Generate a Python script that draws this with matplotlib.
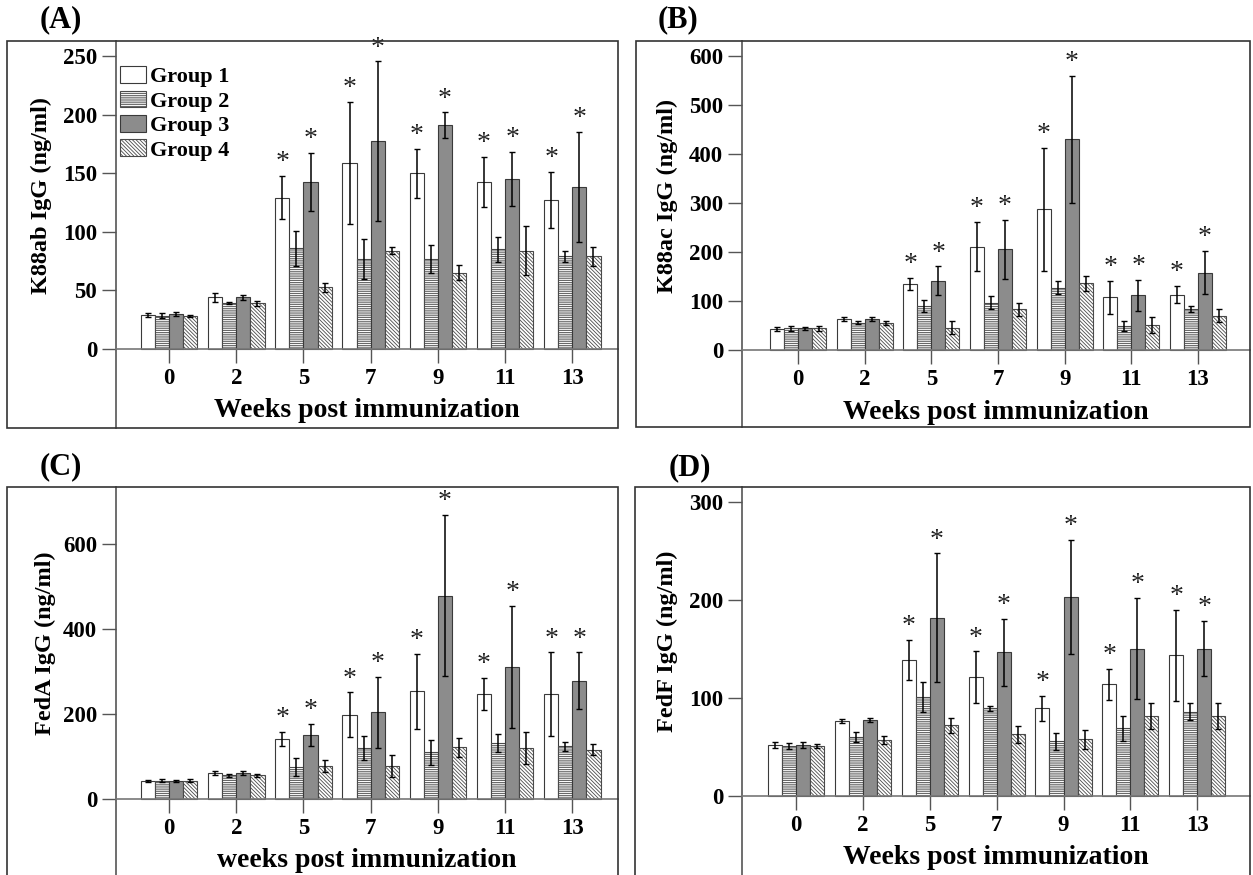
import numpy as np
import matplotlib.pyplot as plt
from matplotlib.patches import Rectangle

weeks = ['0', '2', '5', '7', '9', '11', '13']
groups = ['Group 1', 'Group 2', 'Group 3', 'Group 4']

# mean and SD per group (rows = Group 1..4, columns = weeks)
k88ab_mean = [[29, 44, 129, 159, 150, 142.6, 127],
              [28.5, 39, 86, 77, 76.5, 85, 79],
              [30, 44, 142.6, 177.5, 191, 145, 138],
              [28, 39, 52.5, 84, 65, 84, 79]]
k88ab_sd = [[1.5, 4, 18.5, 52, 21, 21.5, 24],
            [2, 1, 15, 17, 12, 10.5, 4.5],
            [1.5, 2, 25, 68, 11, 23, 47],
            [1, 2, 4, 3, 6.5, 21, 8]]

k88ac_mean = [[43.5, 62.6, 135, 211, 287, 107.5, 113],
              [44, 56, 90, 97, 127, 49, 83],
              [44, 62.6, 141.5, 206, 430, 111.6, 158],
              [44, 56, 46, 83, 136, 51, 70]]
k88ac_sd = [[4, 4, 12, 50, 125, 34, 17.7],
            [5, 3, 12, 12.5, 13, 10, 6],
            [4, 4, 29.5, 60, 129, 31.5, 44],
            [5, 4, 13.5, 14, 15, 16, 13]]

feda_mean = [[43, 61, 141, 198, 253, 247.5, 246.7],
             [43, 55.6, 75, 120, 110, 131.6, 123.8],
             [43, 61, 151, 204, 478.6, 310, 278],
             [43, 55.6, 77, 78, 122, 120, 116]]
feda_sd = [[2, 5, 16.5, 53, 89, 38, 98],
           [4, 3, 22, 29, 29, 21, 10.5],
           [2, 4, 26, 83, 190, 144, 67],
           [3, 4, 14, 26, 22.5, 37, 13.5]]

fedf_mean = [[52, 76.5, 138.6, 121, 89.4, 114, 143.7],
             [51, 60.5, 101, 89.4, 56, 69, 86],
             [52, 78, 182, 146.5, 203, 150.5, 150.5],
             [51, 57, 72, 63, 57.8, 81.5, 81.5]]
fedf_sd = [[3, 2.5, 20.7, 26.6, 12.6, 15.6, 46.5],
           [3.5, 5, 15, 2.4, 8.8, 13, 8.5],
           [3.5, 2, 65.6, 34, 58.5, 51.5, 28.4],
           [2, 4, 7.8, 8.7, 10, 13.6, 13]]

# significance marks: groups 1 and 3 from week 5 on
star_groups = [0, 2]
star_weeks = [2, 3, 4, 5, 6]

plt.rcParams['font.family'] = ['Liberation Serif', 'DejaVu Serif']
plt.rcParams['font.weight'] = 'bold'
plt.rcParams['axes.labelweight'] = 'bold'
plt.rcParams['hatch.linewidth'] = 0.6

W, H = 1253, 875
fig = plt.figure(figsize=(W / 100, H / 100), dpi=100)


def fig_rect(l, t, r, b):
    # pixel box -> figure fraction [left, bottom, width, height]
    return [l / W, 1 - b / H, (r - l) / W, (b - t) / H]


bar_styles = [dict(color='white', edgecolor='#3a3a3a'),
              dict(color='white', edgecolor='#4a4a4a', hatch='---------'),
              dict(color='#8c8c8c', edgecolor='#3a3a3a'),
              dict(color='white', edgecolor='#4a4a4a', hatch='\\' * 9)]

panels = [
    dict(letter='(A)', mean=k88ab_mean, sd=k88ab_sd,
         ylabel='K88ab IgG (ng/ml)', xlabel='Weeks post immunization',
         yticks=[0, 50, 100, 150, 200, 250], ylim=(-67.4, 262.8), xlim=(-0.79, 6.68),
         ax=(116, 41, 618, 428), box=(7, 41, 618, 428), lab=(40, 20), ylx=-0.127,
         legend=True),
    dict(letter='(B)', mean=k88ac_mean, sd=k88ac_sd,
         ylabel='K88ac IgG (ng/ml)', xlabel='Weeks post immunization',
         yticks=[0, 100, 200, 300, 400, 500, 600], ylim=(-157, 630.6), xlim=(-0.84, 6.78),
         ax=(742, 41, 1250, 427), box=(636, 41, 1250, 427), lab=(658, 20), ylx=-0.126,
         legend=False),
    dict(letter='(C)', mean=feda_mean, sd=feda_sd,
         ylabel='FedA IgG (ng/ml)', xlabel='weeks post immunization',
         yticks=[0, 200, 400, 600], ylim=(-179, 734), xlim=(-0.79, 6.68),
         ax=(116, 487, 618, 875), box=(7, 487, 618, 890), lab=(40, 467), ylx=-0.12,
         legend=False),
    dict(letter='(D)', mean=fedf_mean, sd=fedf_sd,
         ylabel='FedF IgG (ng/ml)', xlabel='Weeks post immunization',
         yticks=[0, 100, 200, 300], ylim=(-80.6, 315.3), xlim=(-0.81, 6.79),
         ax=(742, 487, 1250, 875), box=(635, 487, 1250, 890), lab=(669, 468), ylx=-0.126,
         legend=False),
]

x = np.arange(len(weeks))
width = 0.21

for p in panels:
    ax = fig.add_axes(fig_rect(*p['ax']))
    bx = fig_rect(*p['box'])
    fig.add_artist(Rectangle(bx[:2], bx[2], bx[3], transform=fig.transFigure,
                             fill=False, edgecolor='#333333', lw=1.2))
    fig.text(p['lab'][0] / W, 1 - p['lab'][1] / H, p['letter'],
             fontsize=22, fontweight='bold', ha='left', va='center')

    for g in range(4):
        off = (g - 1.5) * width
        mean = np.array(p['mean'][g])
        sd = np.array(p['sd'][g])
        ax.bar(x + off, mean, width, linewidth=0.8, label=groups[g], **bar_styles[g])
        ax.errorbar(x + off, mean, yerr=sd, fmt='none', ecolor='black',
                    elinewidth=1.1, capsize=2, capthick=1)
        if g in star_groups:
            for i in star_weeks:
                ax.annotate('*', xy=(x[i] + off, mean[i] + sd[i]), xytext=(0, 9.5),
                            textcoords='offset points', ha='center', va='center',
                            fontsize=20, fontweight='normal', color='#222222')

    ax.set_xlim(*p['xlim'])
    ax.set_ylim(*p['ylim'])
    ax.set_yticks(p['yticks'])
    ax.set_xticks(x, weeks)
    for side in ('top', 'right'):
        ax.spines[side].set_visible(False)
    ax.spines['bottom'].set_position(('data', 0))
    ax.spines['bottom'].set_color('#777777')
    ax.spines['left'].set_color('#555555')
    ax.spines['bottom'].set_linewidth(1.2)
    ax.spines['left'].set_linewidth(1.2)
    ax.tick_params(axis='both', direction='out', length=10, width=1,
                   color='#555555', labelsize=16.5, pad=3.5)

    ax.set_xlabel(p['xlabel'], fontsize=20, labelpad=7)
    ax.set_ylabel(p['ylabel'], fontsize=17.5)
    ax.yaxis.set_label_coords(p['ylx'], p['ylim'][1] / 2, transform=ax.get_yaxis_transform())

    if p['legend']:
        ax.legend(loc='upper left', bbox_to_anchor=(0.008, 0.935), frameon=False,
                  fontsize=16, handlelength=1.15, handleheight=0.78,
                  handletextpad=0.2, labelspacing=0.15, borderpad=0, borderaxespad=0)

fig.savefig('out.png', dpi=100)
